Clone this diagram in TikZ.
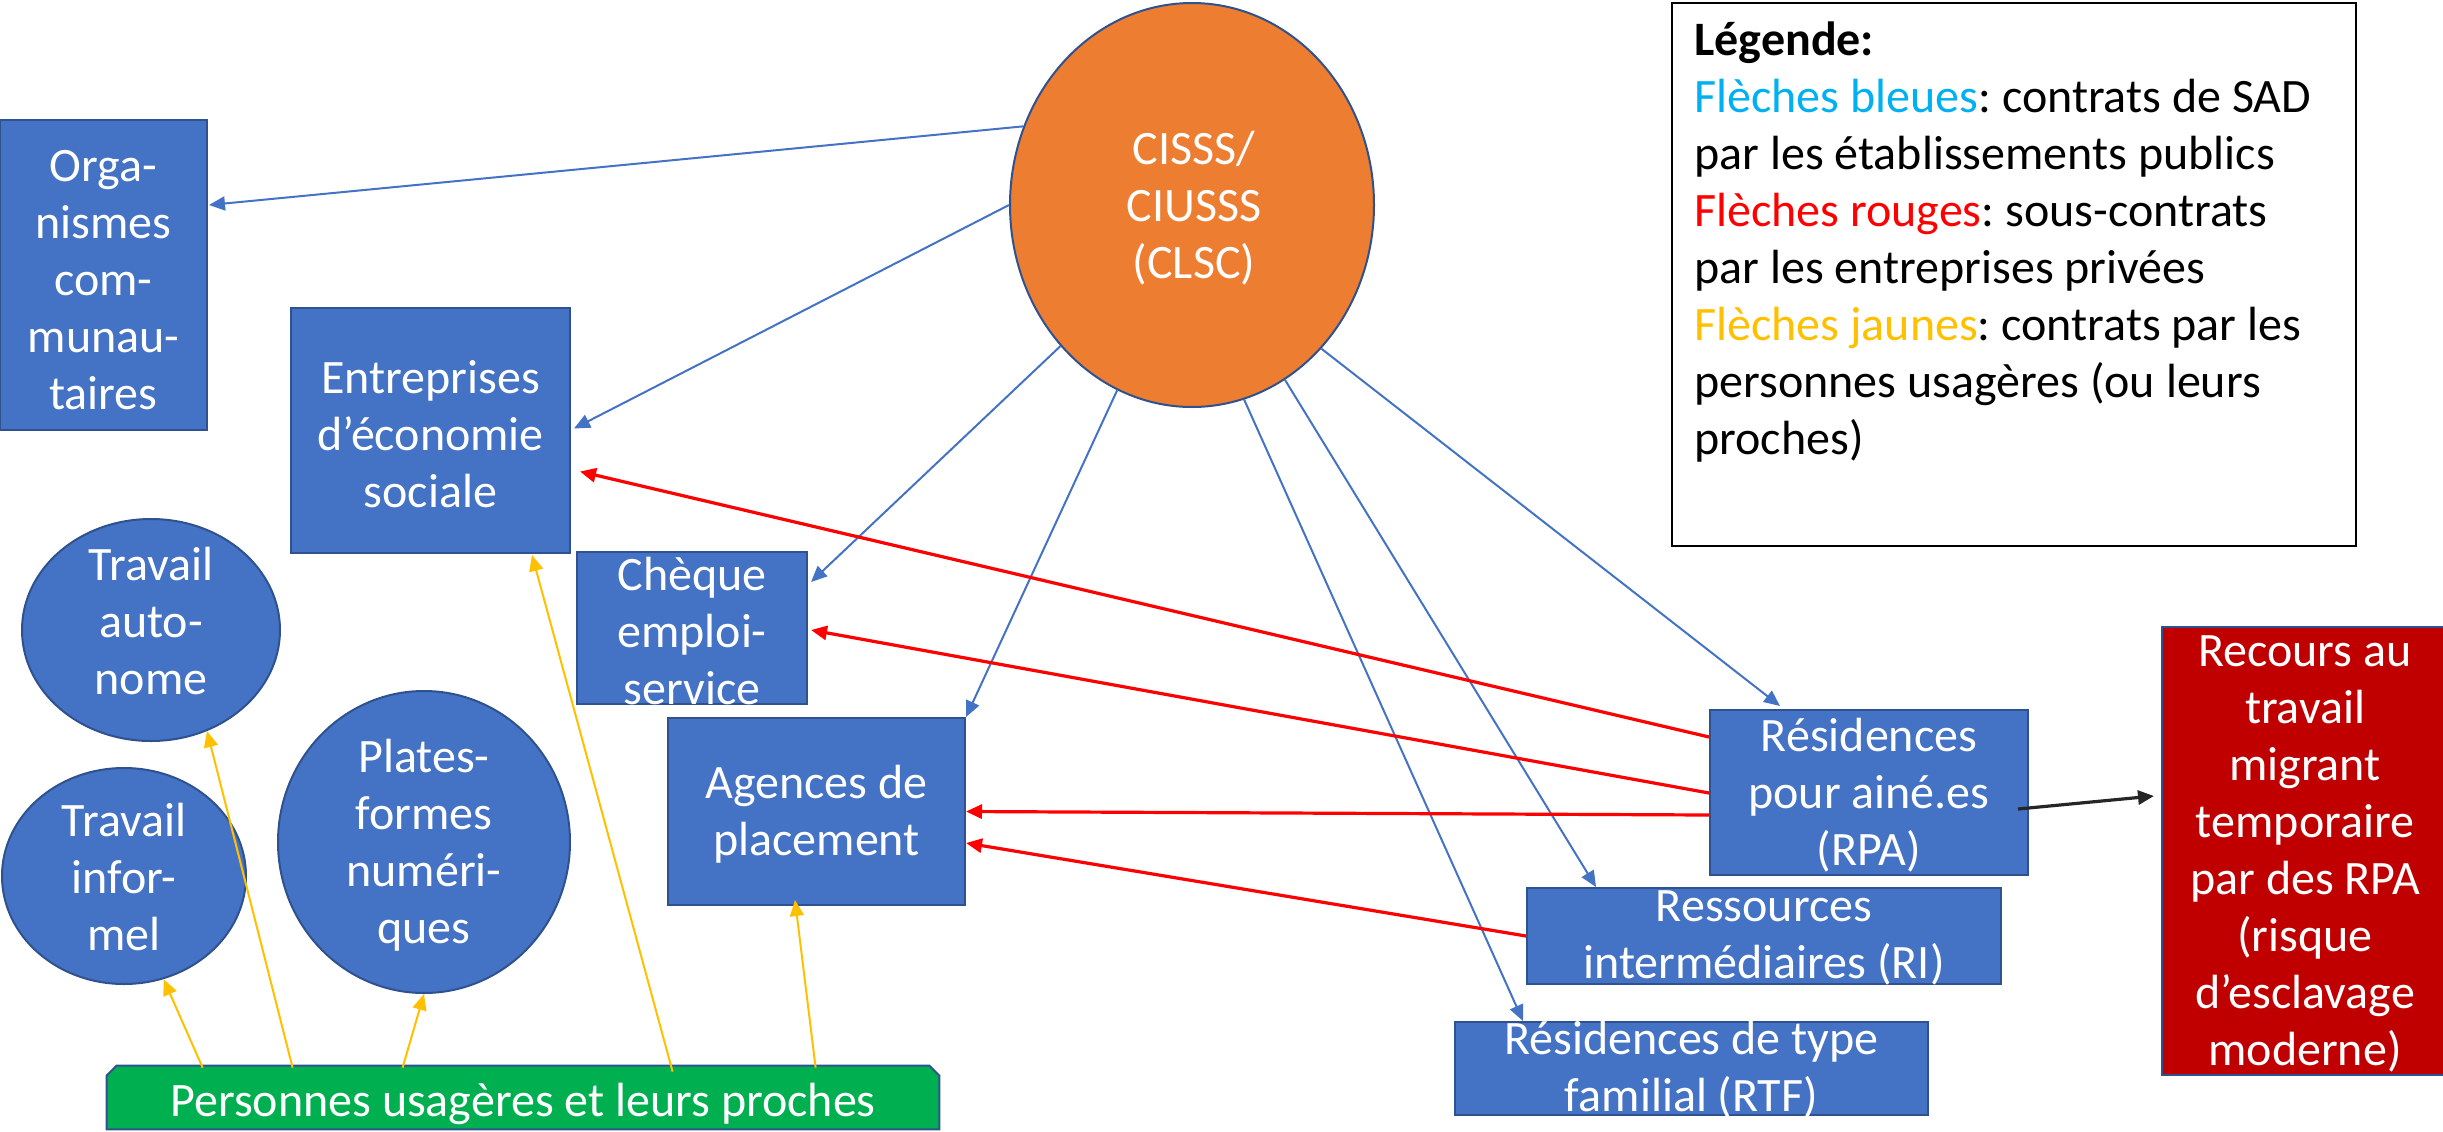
\documentclass[tikz,border=0pt]{standalone}
\usepackage{fontspec}
\setmainfont{Carlito}
\usetikzlibrary{arrows.meta,calc,shapes.geometric}
\definecolor{boxblue}{HTML}{4472C4}
\definecolor{boxline}{HTML}{2F528F}
\definecolor{orng}{HTML}{ED7D31}
\definecolor{grn}{HTML}{00B050}
\definecolor{dred}{HTML}{C00000}
\definecolor{legblue}{HTML}{00B0F0}
\definecolor{arryel}{HTML}{FFC000}
\definecolor{arrblue}{HTML}{4472C4}
\definecolor{arrred}{HTML}{FF0000}
\newcommand{\fsz}{\fontsize{24}{28.5}\selectfont}
\frenchspacing
\begin{document}
\begin{tikzpicture}[x=0.5pt,y=-0.5pt,
  shp/.style={draw=boxline, fill=boxblue, line width=1pt, inner sep=0pt},
  bx/.style={shp, rectangle},
  el/.style={shp, ellipse},
  txt/.style={text=white, align=center, font=\fsz, inner sep=0pt},
  tip/.style={-{Triangle[length=8pt,width=7pt]}},
  bluearr/.style={tip, draw=arrblue, line width=1pt},
  redarr/.style={tip, draw=arrred, line width=1.6pt},
  yelarr/.style={tip, draw=arryel, line width=1pt},
  blkarr/.style={tip, draw=black!85, line width=1.6pt},
]
\useasboundingbox (0,0) rectangle (2443,1131);

% shapes
\node[bx, minimum width=103.5pt, minimum height=155pt] (org) at (103.5,275) {};
\node[bx, minimum width=139.5pt, minimum height=122.5pt] (ent) at (430.5,430.5) {};
\node[bx, minimum width=115pt, minimum height=76pt] (cheque) at (692,628) {};
\node[bx, minimum width=148.5pt, minimum height=93.5pt] (ag) at (816.5,811.5) {};
\node[bx, minimum width=159pt, minimum height=82.5pt] (rpa) at (1869,792.5) {};
\node[bx, minimum width=237pt, minimum height=48pt] (ri) at (1764,936) {};
\node[bx, minimum width=236.5pt, minimum height=46.5pt] (rtf) at (1691.5,1068.5) {};
\node[bx, fill=dred, minimum width=143pt, minimum height=224pt] (rec) at (2305,851) {};
\node[el, fill=orng, minimum width=182pt, minimum height=202pt] (cisss) at (1192,205) {};
\node[el, minimum width=129pt, minimum height=111pt] (tauto) at (151,630) {};
\node[el, minimum width=122pt, minimum height=108pt] (tinf) at (124,876) {};
\node[el, minimum width=146pt, minimum height=151pt] (plates) at (424,842) {};
\node[inner sep=0pt, minimum width=416pt, minimum height=31.5pt] (pers) at (523,1097.5) {};
\draw[draw=boxline, fill=grn, line width=1pt]
  (pers.south west) -- ($(pers.north west)+(0,10)$) -- ($(pers.north west)+(10,0)$)
  -- ($(pers.north east)+(-10,0)$) -- ($(pers.north east)+(0,10)$) -- (pers.south east) -- cycle;
\node[draw=black, line width=1pt, inner sep=0pt, minimum width=342pt, minimum height=271.5pt] (leg) at (2014,274.5) {};

% blue arrows
\draw[bluearr] (cisss.155.4) -- ($(org.east)+(1,-70)$);
\draw[bluearr] (cisss.180) -- ($(ent.east)+(3,-2)$);
\draw[bluearr] (cisss.227.7) -- ($(cheque.east)+(3,-46)$);
\draw[bluearr] (cisss.248.3) -- (ag.north east);
\draw[bluearr] (cisss.285.2) -- ($(rtf.north west)+(69,0)$);
\draw[bluearr] (cisss.298.2) -- ($(ri.north west)+(70,0)$);
\draw[bluearr] (cisss.312.1) -- ($(rpa.north west)+(71,-3)$);

% red arrows
\draw[redarr] ($(rpa.west)+(0,-55.5)$) -- ($(ent.east)+(9,41)$);
\draw[redarr] ($(rpa.west)+(0,0.5)$) -- ($(cheque.east)+(3,2)$);
\draw[redarr] ($(rpa.west)+(0,22.5)$) -- (ag.east);
\draw[redarr] (ri.west) -- ($(ag.east)+(0,31.5)$);

% black arrow
\draw[blkarr] ($(rpa.east)+(-11,16.5)$) -- ($(rec.west)+(-7,-55)$);

% yellow arrows
\draw[yelarr] ($(pers.north west)+(96,2)$) -- (tinf.291.5);
\draw[yelarr] ($(pers.north west)+(186,2)$) -- (tauto.299.6);
\draw[yelarr] ($(pers.north west)+(296,2)$) -- (plates.south);
\draw[yelarr] ($(pers.north west)+(566,6)$) -- ($(ent.south west)+(242,1)$);
\draw[yelarr] ($(pers.north west)+(709,2)$) -- ($(ag.south west)+(128,-6)$);

% texts
\node[txt] (orgt) at (103.5,280) {Orga-\\nismes\\com-\\munau-\\taires};
\node[txt] (entt) at (430.5,434) {Entreprises\\d’économie\\sociale};
\node[txt] (chequet) at (692,631) {Chèque\\emploi-\\service};
\node[txt] (agt) at (816.5,814) {Agences de\\placement};
\node[txt] (rpat) at (1869,795) {Résidences\\pour ainé.es\\(RPA)};
\node[txt] (rit) at (1764,937.5) {Ressources\\intermédiaires (RI)};
\node[txt] (rtft) at (1691.5,1070) {Résidences de type\\familial (RTF)};
\node[txt] (rect) at (2305,854) {Recours au\\travail\\migrant\\temporaire\\par des RPA\\(risque\\d’esclavage\\moderne)};
\node[txt] (cissst) at (1194,208) {CISSS/\\CIUSSS\\(CLSC)};
\node[txt] (tautot) at (151,621) {Travail\\auto-\\nome};
\node[txt] (tinft) at (124,877) {Travail\\infor-\\mel};
\node[txt] (platest) at (424,845) {Plates-\\formes\\numéri-\\ques};
\node[txt] (perst) at (523,1104) {Personnes usagères et leurs proches};
\node[anchor=north west, align=left, font=\fsz, inner sep=0pt] (legt) at (1694,21)
 {\textbf{Légende:}\\
  \textcolor{legblue}{Flèches bleues}: contrats de SAD\\
  par les établissements publics\\
  \textcolor{arrred}{Flèches rouges}: sous-contrats\\
  par les entreprises privées\\
  \textcolor{arryel}{Flèches jaunes}: contrats par les\\
  personnes usagères (ou leurs\\
  proches)};
\end{tikzpicture}
\end{document}
